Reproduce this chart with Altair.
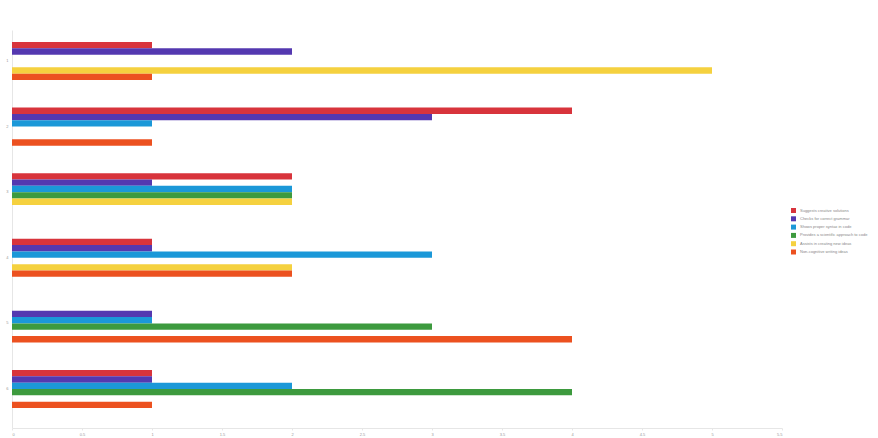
import altair as alt
import pandas as pd

groups = ["1", "2", "3", "4", "5", "6"]
series = [
    "Suggests creative solutions",
    "Checks for correct grammar",
    "Shows proper syntax in code",
    "Provides a scientific approach to code",
    "Assists in creating new ideas",
    "Non-cognitive writing ideas",
]
colors = ["#d8343c", "#5438b0", "#1b98d8", "#3d9a3e", "#f5d13f", "#ec5120"]

# values per series, one per group (top to bottom)
v_red = [1, 4, 2, 1, 0, 1]
v_purple = [2, 3, 1, 1, 1, 1]
v_blue = [0, 1, 2, 3, 1, 2]
v_green = [0, 0, 2, 0, 3, 4]
v_yellow = [5, 0, 2, 2, 0, 0]
v_orange = [1, 1, 0, 2, 4, 1]

all_vals = [v_red, v_purple, v_blue, v_green, v_yellow, v_orange]
rows = []
for s, vals in zip(series, all_vals):
    for g, v in zip(groups, vals):
        rows.append({"group": g, "series": s, "value": v})
df = pd.DataFrame(rows)

x_ticks = [0, 0.5, 1, 1.5, 2, 2.5, 3, 3.5, 4, 4.5, 5, 5.5]

chart = alt.Chart(df).mark_bar().encode(
    x=alt.X("value:Q",
            scale=alt.Scale(domain=[0, 5.5], nice=False),
            axis=alt.Axis(values=x_ticks, title=None, grid=False, labelFontSize=4,
                          labelColor="#999", domainColor="#e6e6e6", tickColor="#e6e6e6",
                          tickSize=2, labelPadding=2, format="~g")),
    y=alt.Y("group:N", sort=groups,
            scale=alt.Scale(paddingInner=0.42, paddingOuter=0.244, align=0.375),
            axis=alt.Axis(title=None, grid=False, labelFontSize=4, labelColor="#999",
                          domainColor="#e6e6e6", ticks=False, labelPadding=4)),
    yOffset=alt.YOffset("series:N", sort=series, scale=alt.Scale(domain=series)),
    color=alt.Color("series:N",
                    scale=alt.Scale(domain=series, range=colors),
                    legend=alt.Legend(title=None, orient="none", legendX=779, legendY=178,
                                      symbolType="square", symbolSize=25, labelFontSize=4,
                                      labelColor="#888", rowPadding=3.3, symbolStrokeWidth=0,
                                      labelLimit=200)),
).properties(
    width=770, height=398,
    autosize=alt.AutoSizeParams(type="none"),
    padding={"left": 12, "top": 30, "right": 96, "bottom": 10},
).configure_view(stroke=None)

chart.save("out.html", embed_options={"renderer": "svg", "actions": False})
